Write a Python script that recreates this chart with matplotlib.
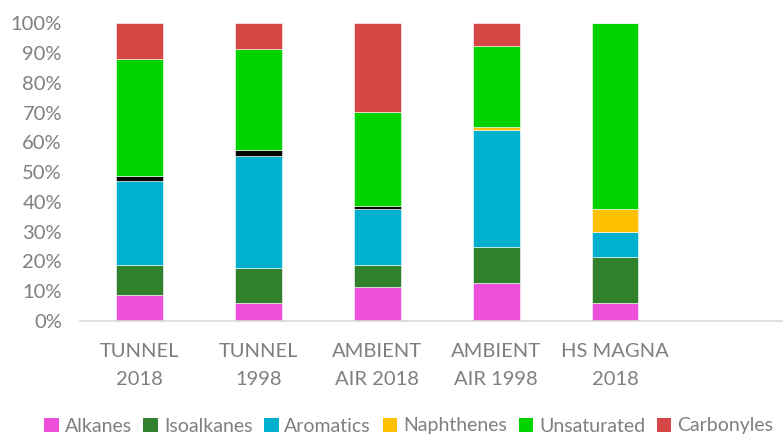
import matplotlib
matplotlib.use("Agg")
import matplotlib.pyplot as plt
from matplotlib.patches import Patch
from matplotlib.ticker import PercentFormatter
import numpy as np

plt.rcParams['font.family'] = ['Lato', 'DejaVu Sans']

categories = ["TUNNEL\n2018", "TUNNEL\n1998", "AMBIENT\nAIR 2018", "AMBIENT\nAIR 1998", "HS MAGNA\n2018"]

alkanes      = [8.7, 6.0, 11.3, 12.9, 6.0]
isoalkanes   = [10.2, 11.9, 7.6, 12.0, 15.4]
aromatics    = [28.1, 37.5, 18.7, 39.2, 8.6]
naphthenes   = [0.0, 0.0, 0.0, 1.0, 7.6]
other        = [1.7, 1.9, 1.0, 0.0, 0.0]
unsaturated  = [39.3, 34.1, 31.5, 27.2, 62.4]
carbonyles   = [12.0, 8.6, 29.9, 7.7, 0.0]

series = [
    ("Alkanes", alkanes, "#EE50DB"),
    ("Isoalkanes", isoalkanes, "#31802C"),
    ("Aromatics", aromatics, "#00B1CF"),
    ("Naphthenes", naphthenes, "#FFC000"),
    (None, other, "#000000"),
    ("Unsaturated", unsaturated, "#00D300"),
    ("Carbonyles", carbonyles, "#D54644"),
]

text_color = "#7F7F7F"

fig = plt.figure(figsize=(7.83, 4.37), dpi=100)
ax = fig.add_axes([80 / 783, 1 - 321 / 437, 1 - 80 / 783, (321 - 23.3) / 437])

x = np.arange(len(categories))
bottom = np.zeros(len(categories))
handles = []
for name, vals, color in series:
    v = np.array(vals)
    ax.bar(x, v, width=0.39, bottom=bottom, color=color,
           edgecolor="white", linewidth=0.4, zorder=2)
    bottom += v
    if name is not None:
        handles.append(Patch(facecolor=color, edgecolor="none", label=name))

ax.set_ylim(0, 100)
ax.set_xlim(-0.5, 5.41)
ax.set_yticks(np.arange(0, 101, 10))
ax.yaxis.set_major_formatter(PercentFormatter(decimals=0))
ax.set_xticks(x)
ax.set_xticklabels(categories, linespacing=1.75)

for s in ["top", "right", "left"]:
    ax.spines[s].set_visible(False)
ax.spines["bottom"].set_color("#D9D9D9")
ax.spines["bottom"].set_linewidth(1.2)
ax.tick_params(axis="both", length=0, labelsize=14.5, colors=text_color)
ax.tick_params(axis="x", pad=16)
ax.tick_params(axis="y", pad=13)

fig.legend(handles=handles, loc="center", bbox_to_anchor=(0.522, 1 - 426 / 437),
           ncol=6, frameon=False, fontsize=14, labelcolor=text_color,
           handlelength=0.75, handleheight=0.75, handletextpad=0.3,
           columnspacing=0.6, borderaxespad=0)

fig.savefig("out.png", dpi=100)
